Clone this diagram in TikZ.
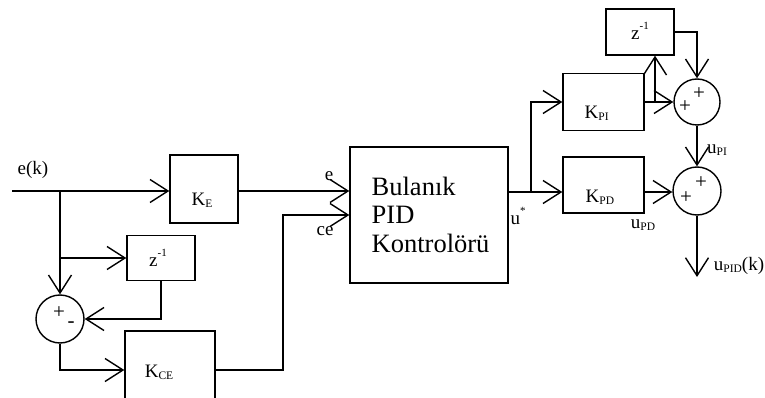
\documentclass[tikz,border=0pt]{standalone}
\usepackage{fontspec}
\setmainfont{Liberation Serif}
\usetikzlibrary{arrows.meta}
\newcommand{\mysb}[1]{\raisebox{-0.1em}{\fontsize{11.5}{11.5}\selectfont #1}}
\newcommand{\mysp}[1]{\raisebox{0.55em}{\fontsize{11}{11}\selectfont #1}}
\begin{document}
\begin{tikzpicture}[x=1pt,y=-1pt,
  line width=1.4pt,
  arr/.style={-{Straight Barb[length=18pt,width=23pt,line width=1.4pt]}},
  blk/.style={draw,rectangle,inner sep=0pt},
  sum/.style={draw,circle,minimum size=#1,inner sep=0pt},
  lbl/.style={inner sep=0pt,font=\fontsize{19}{19}\selectfont},
  sml/.style={inner sep=0pt,font=\fontsize{19}{19}\selectfont},
  pls/.style={inner sep=0pt,font=\fontsize{21}{21}\selectfont}]
\clip (0,0) rectangle (765,398);
% blocks
\node[blk,minimum width=68pt,minimum height=68pt] (KE) at (204,189) {};
\node[blk,minimum width=68pt,minimum height=45pt] (Z1) at (161,258) {};
\node[sum=48pt] (S1) at (60,319) {};
\node[blk,minimum width=90pt,minimum height=78pt] (KCE) at (170,370) {};
\node[blk,minimum width=158pt,minimum height=136pt] (FLC) at (429,215) {};
\node[blk,minimum width=81pt,minimum height=57pt] (KPI) at (603.5,102) {};
\node[blk,minimum width=81pt,minimum height=56pt] (KPD) at (603.5,185) {};
\node[blk,minimum width=68pt,minimum height=46pt] (Z2) at (640,32) {};
\node[sum=46pt] (S2) at (697,102) {};
\node[sum=48pt] (S3) at (697,191) {};
% block texts
\node[lbl] (tKE) at (202,200) {K\mysb{E}};
\node[lbl] (tZ1) at (158,258) {z\mysp{-1}};
\node[lbl] (tKCE) at (159,372) {K\mysb{CE}};
\node[lbl,anchor=west] (tKPI) at (584,113) {K\mysb{PI}};
\node[lbl,anchor=west] (tKPD) at (585,197) {K\mysb{PD}};
\node[lbl] (tZ2) at (640,31) {z\mysp{-1}};
\node[inner sep=0pt,anchor=base west,align=left,font=\fontsize{26.5}{28.5}\selectfont] (tFLC) at (371,252) {Bulanık\\PID\\Kontrolörü};
% sum signs
\node[pls] (p1) at (59,313) {+};
\node[pls] (m1) at (71,325) {-};
\node[pls] (p2) at (699,94) {+};
\node[pls] (p3) at (685,107) {+};
\node[pls] (p4) at (701,183) {+};
\node[pls] (p5) at (686,198) {+};
% signal labels
\node[lbl] (lek) at (33,170) {e(k)};
\node[sml] (le) at (329,176) {e};
\node[sml] (lce) at (325,231) {ce};
\node[sml] (lu) at (518,216) {u\mysp{*}};
\node[sml] (lupi) at (717,150) {u\mysb{PI}};
\node[sml] (lupd) at (643,225) {u\mysb{PD}};
\node[sml] (lupid) at (739,266) {u\mysb{PID}(k)};
% coordinates
\coordinate (in) at (12,191);
\coordinate (b1) at (60,191);
\coordinate (ceb) at (283,215);
\coordinate (b2) at (531,192);
\coordinate (b3) at (655,102);
\coordinate (out) at (697,277);
% connectors
\draw[arr] (in) -- (in -| KE.west);
\draw[arr] (b1) -- (S1.north);
\draw[arr] (b1 |- Z1) -- (Z1.west);
\draw[arr] (Z1.south) |- (S1.east);
\draw[arr] (S1.south) |- (KCE.west);
\draw[arr] (KCE.east) -| (ceb) -- (ceb -| FLC.west);
\draw[arr] (in -| KE.east) -- (in -| FLC.west);
\draw[arr] (b2 -| FLC.east) -- (b2 -| KPD.west);
\draw[arr] (b2) |- (KPI.west);
\draw[arr] (KPI.east) -- (S2.west);
\draw[arr] (b3) -- (b3 |- Z2.south);
\draw[arr] (Z2.east) -| (S2.north);
\draw[arr] (S2.south) -- (S3.north);
\draw[arr] (b2 -| KPD.east) -- (b2 -| S3.west);
\draw[arr] (S3.south) -- (out);
\end{tikzpicture}
\end{document}
